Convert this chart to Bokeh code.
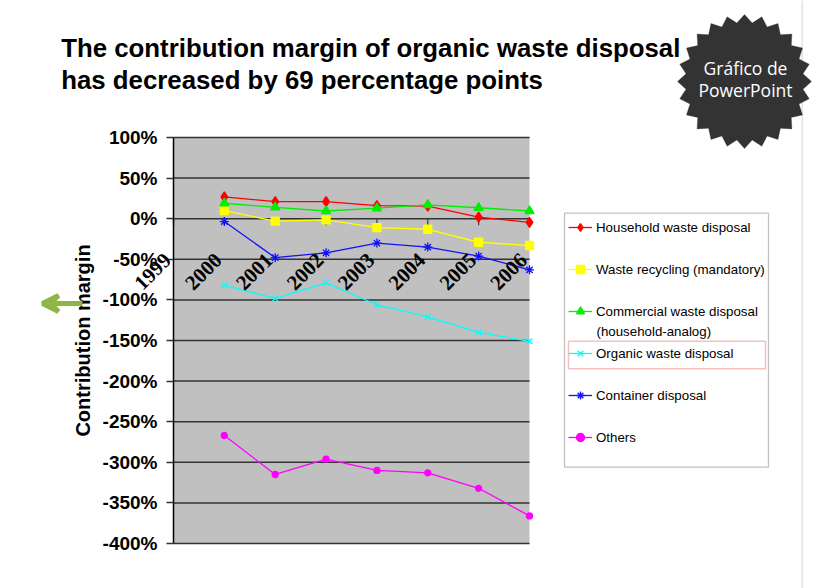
import math
from bokeh.plotting import figure
from bokeh.models import (Range1d, FixedTicker, PrintfTickFormatter, Label, LabelSet,
                          ColumnDataSource, BoxAnnotation, PolyAnnotation, Arrow, VeeHead,
                          Legend, LegendItem)
from bokeh.embed import file_html
from bokeh.resources import INLINE

# ---------------- data ----------------
years = [2000, 2001, 2002, 2003, 2004, 2005, 2006]
axis_years = [1999, 2000, 2001, 2002, 2003, 2004, 2005, 2006]
axis_year_labels = ["1999", "2000", "2001", "2002", "2003", "2004", "2005", "2006"]

household = [27, 21, 21, 16, 15.5, 2, -4.5]
recycling = [10, -3, -1.5, -11, -13, -29, -33]
commercial = [19, 14, 9.5, 13, 17, 13.5, 9.5]
organic = [-82, -98, -79, -106, -121, -140, -151]
container = [-3.5, -48, -42, -30, -35, -46, -63]
others = [-267, -315, -296, -310, -313, -332, -366]

series_names = ["Household waste disposal", "Waste recycling (mandatory)",
                "Commercial waste disposal", "Organic waste disposal",
                "Container disposal", "Others"]
y_ticks = [100, 50, 0, -50, -100, -150, -200, -250, -300, -350, -400]

title_lines = ["The contribution margin of organic waste disposal",
               "has decreased by 69 percentage points"]

# ---------------- layout (pixels) ----------------
W, H = 820, 588
PLOT_L, PLOT_R, PLOT_T, PLOT_B = 173, 529, 137, 543   # grey plot area in page pixels
BL = 7  # correction for alphabetic baseline placement
x0, x1 = axis_years[0], axis_years[-1]
y0, y1 = y_ticks[-1], y_ticks[0]
kx = (PLOT_R - PLOT_L) / (x1 - x0)
ky = (PLOT_B - PLOT_T) / (y1 - y0)
xr = Range1d(x0 - PLOT_L / kx, x0 + (W - PLOT_L) / kx)
yr = Range1d(y1 - (H - PLOT_T) / ky, y1 + PLOT_T / ky)

p = figure(width=W, height=H, output_backend="svg", toolbar_location=None,
           x_range=xr, y_range=yr, x_axis_location=None,
           min_border_left=0, min_border_right=0, min_border_top=0, min_border_bottom=0)
p.background_fill_color = "white"
p.border_fill_color = "white"
p.outline_line_color = None
p.xgrid.visible = False
p.ygrid.visible = False

ax = p.yaxis[0]
ax.fixed_location = x0
ax.bounds = (y0, y1)
ax.ticker = FixedTicker(ticks=y_ticks)
ax.formatter = PrintfTickFormatter(format="%d%%")
ax.major_label_text_font = "Liberation Sans"
ax.major_label_text_font_style = "bold"
ax.major_label_text_font_size = "19px"
ax.major_label_text_color = "black"
ax.major_label_standoff = 9
ax.major_tick_out = 7
ax.major_tick_in = 0
ax.major_tick_line_color = "#333333"
ax.major_tick_line_width = 1.5
ax.minor_tick_line_color = None
ax.axis_line_color = "black"
ax.axis_line_width = 1.5
ax.axis_label = "Contribution margin"
ax.axis_label_text_font = "Liberation Sans"
ax.axis_label_text_font_style = "bold"
ax.axis_label_text_font_size = "20px"
ax.axis_label_text_color = "black"
ax.axis_label_standoff = 6

# grey plot area
p.add_layout(BoxAnnotation(left=x0, right=x1, bottom=y0, top=y1, level="underlay",
                           fill_color="#C0C0C0", fill_alpha=1, line_alpha=0))
# horizontal grid lines across the plot area
p.segment(x0=[x0] * len(y_ticks), x1=[x1] * len(y_ticks), y0=y_ticks, y1=y_ticks,
          line_color="#333333", line_width=1.5)
# x ticks on the zero line
p.segment(x0=axis_years, y0=[0] * len(axis_years), x1=axis_years,
          y1=[-8] * len(axis_years), line_color="#444444", line_width=1.3)

# ---------------- series ----------------
specs = [
    (household, "#FF0000", "diamond", 10),
    (recycling, "#FFFF00", "square", 8),
    (commercial, "#00EE00", "triangle", 9),
    (organic, "#00FFFF", "x", 8),
    (container, "#1010FF", "asterisk", 9),
    (others, "#FF00FF", "circle", 6),
]
items = []
for (vals, col, mk, sz), name in zip(specs, series_names):
    lr = p.line(years, vals, line_color=col, line_width=1.3)
    sr = p.scatter(years, vals, marker=mk, size=sz, fill_color=col, line_color=col,
                   line_width=1.3)
    items.append(LegendItem(label=name, renderers=[lr, sr]))

# x labels (rotated)
src = ColumnDataSource(dict(x=axis_years, y=[0] * len(axis_years), t=axis_year_labels))
p.add_layout(LabelSet(x="x", y="y", text="t", source=src, angle=math.pi / 4,
                      text_align="right", text_baseline="middle",
                      x_offset=-6, y_offset=-38,
                      text_font="Liberation Sans", text_font_style="bold",
                      text_font_size="21px", text_color="black"))

# ---------------- legend ----------------
lg = Legend(items=items, location=(568, H - 447), margin=0, padding=0, spacing=22,
            label_height=20, glyph_height=20, glyph_width=24, label_standoff=4,
            label_text_font="Liberation Sans", label_text_font_size="13.3px",
            label_text_color="black", border_line_alpha=0, background_fill_alpha=0)
p.add_layout(lg)

SU = dict(left_units="screen", right_units="screen", top_units="screen",
          bottom_units="screen")
p.add_layout(BoxAnnotation(left=564, right=768, top=H - 212.7, bottom=H - 466.7, **SU,
                           fill_alpha=0, line_color="#333333", line_width=1.3))
p.add_layout(BoxAnnotation(left=568, right=765, top=H - 340.7, bottom=H - 368.3, **SU,
                           fill_alpha=0, line_color="#E53030", line_width=1.5))
p.add_layout(Label(x=596, y=H - 330.7, x_units="screen", y_units="screen",
                   text="(household-analog)", text_baseline="middle",
                   text_font="Liberation Sans", text_font_size="13.3px", text_color="black"))

# ---------------- title ----------------
for t, yy in zip(title_lines, [54.3, 86.8]):
    p.add_layout(Label(x=60.7, y=H - (yy - BL), x_units="screen", y_units="screen", text=t,
                       text_baseline="alphabetic", text_font="Liberation Sans",
                       text_font_style="bold", text_font_size="25.8px", text_color="black"))

# ---------------- decorations ----------------
p.add_layout(BoxAnnotation(left=801, right=802.5, top=H, bottom=0, **SU,
                           fill_color="#E2E2E2", fill_alpha=1, line_alpha=0))

cx, cy, ro, ri, n = 744, H - 81, 67, 59, 24
bxs, bys = [], []
for k in range(2 * n):
    r = ro if k % 2 == 0 else ri
    a = math.pi / 2 + k * math.pi / n
    bxs.append(cx + r * math.cos(a))
    bys.append(cy + r * math.sin(a))
p.add_layout(PolyAnnotation(xs=bxs, ys=bys, xs_units="screen", ys_units="screen",
                            fill_color="#333333", fill_alpha=1, line_color="#333333"))
for t, yy in [("Gráfico de", 74), ("PowerPoint", 96.7)]:
    p.add_layout(Label(x=745, y=H - (yy - BL), x_units="screen", y_units="screen", text=t,
                       text_align="center", text_baseline="alphabetic",
                       text_font="Open Sans", text_font_size="17.5px", text_color="white"))

p.add_layout(Arrow(x_start=82, y_start=H - 303, x_end=42, y_end=H - 303,
                   start_units="screen", end_units="screen",
                   line_color="#8DB646", line_width=5,
                   end=VeeHead(size=16, line_color="#8DB646", line_width=5, fill_alpha=0)))

open("out.html", "w").write(file_html(p, INLINE))
